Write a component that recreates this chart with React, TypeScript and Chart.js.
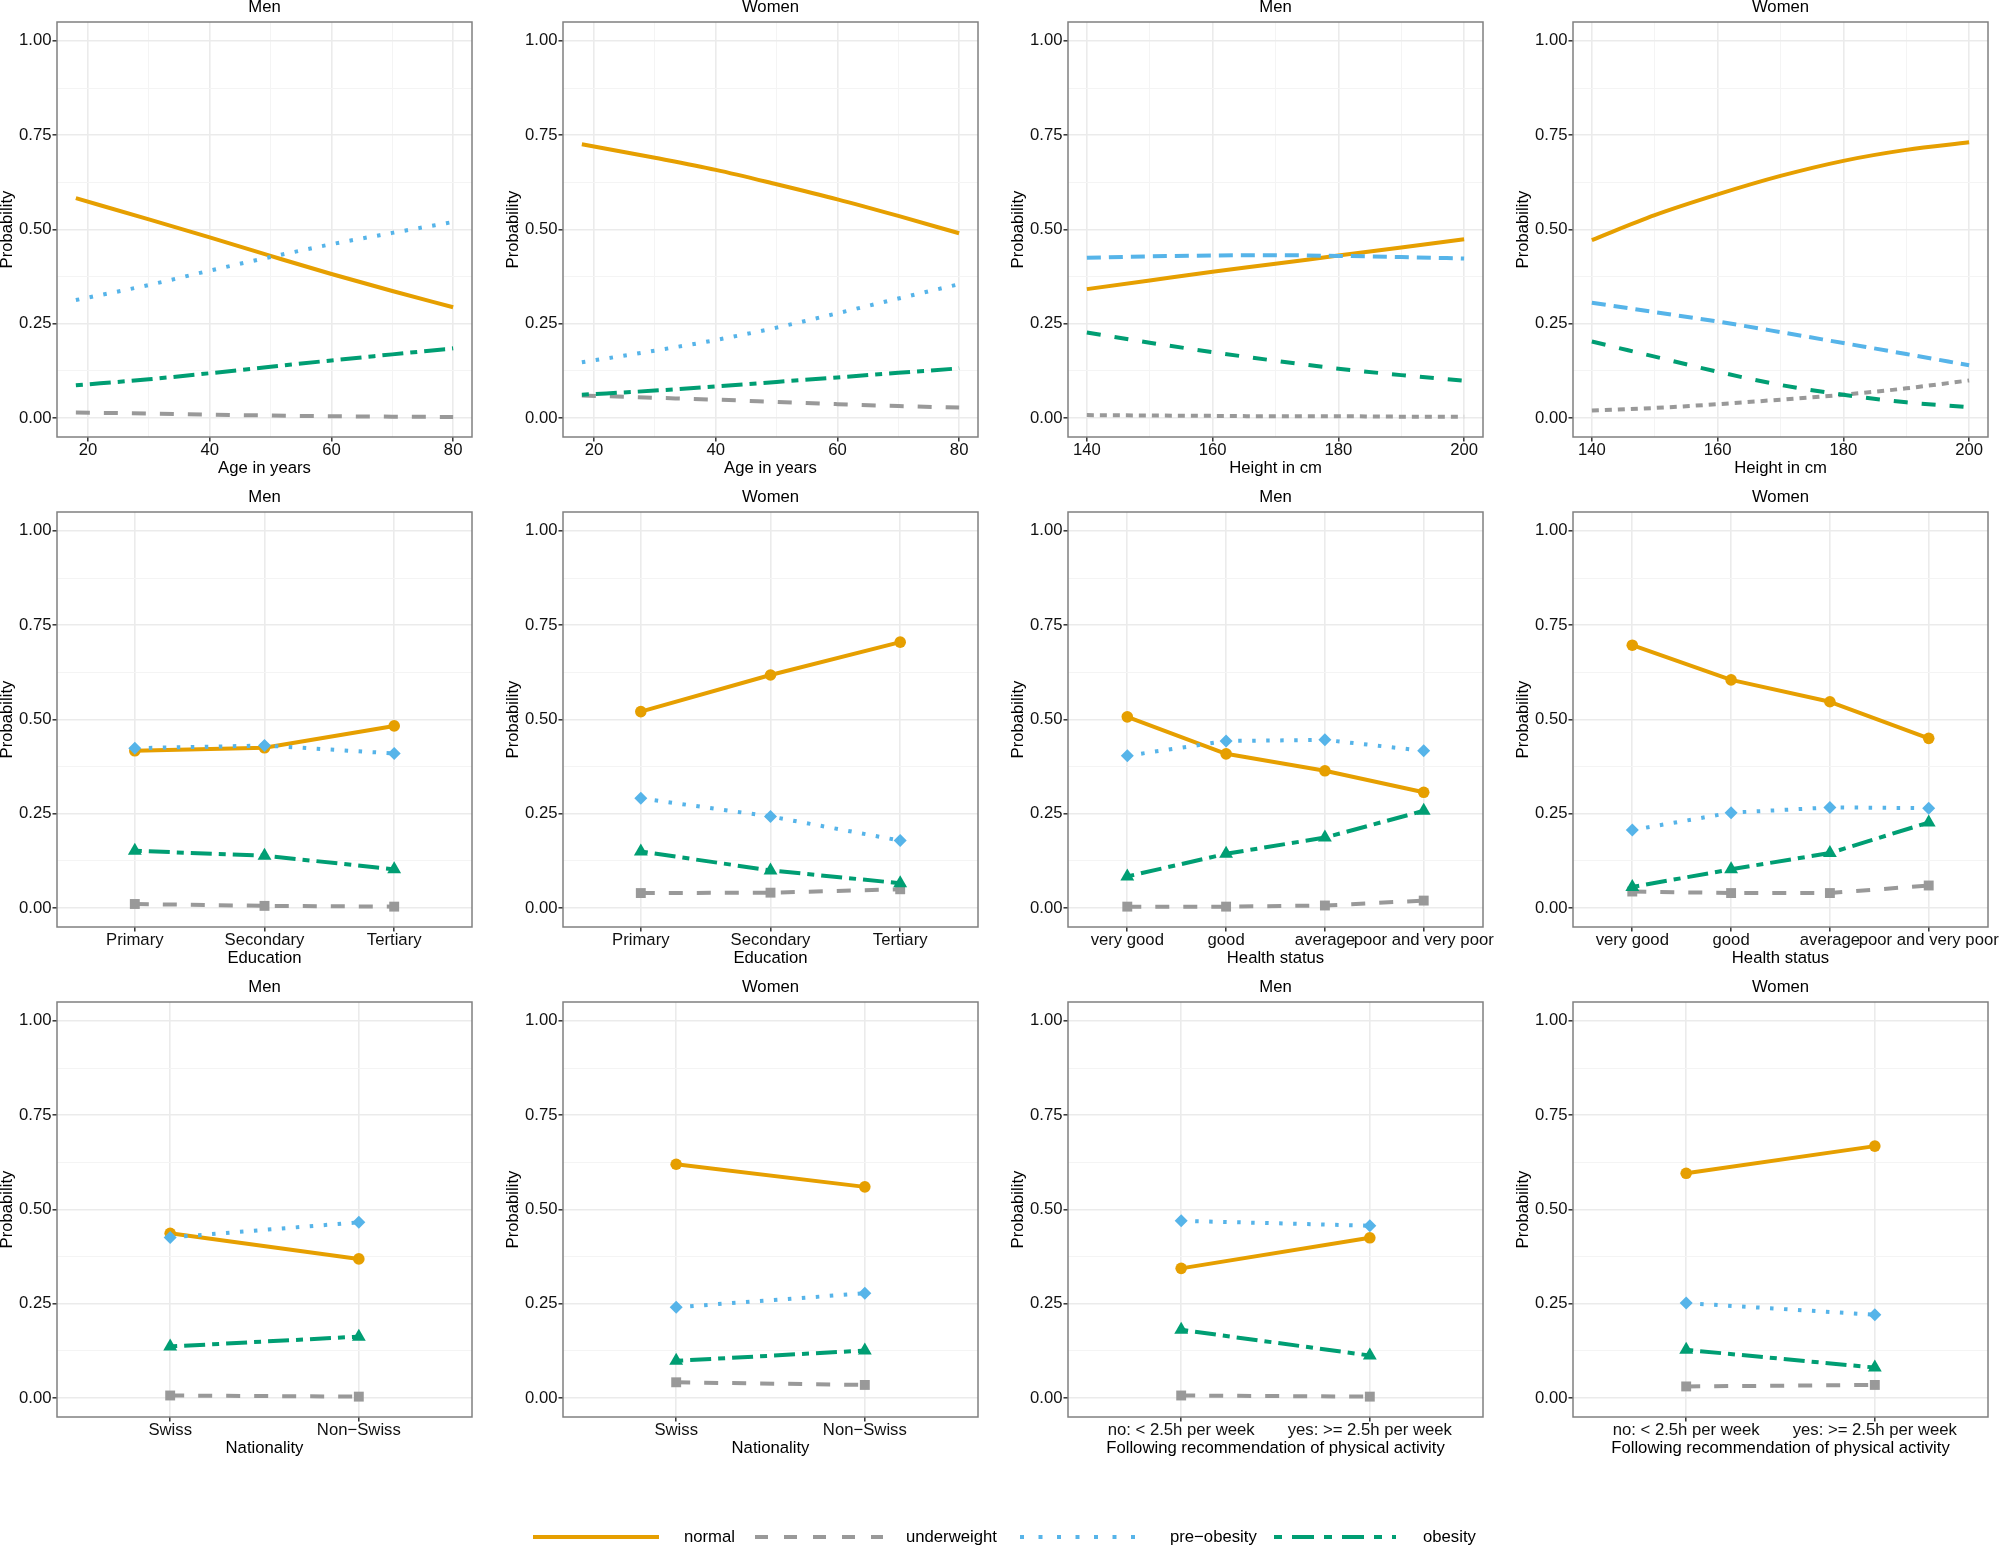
import React, { useEffect, useRef } from 'react';
import { Chart, registerables } from 'chart.js';

Chart.register(...registerables);

// ---------------- DATA ----------------
const SERIES = ['normal', 'underweight', 'pre\u2212obesity', 'obesity'];

const Y_TICKS = [0, 0.25, 0.5, 0.75, 1];
const Y_MINOR = [0.125, 0.375, 0.625, 0.875];

const AGE_YEARS = [18, 30, 40, 50, 60, 70, 80];
const AGE_TICKS = [20, 40, 60, 80];
const AGE_MINOR = [30, 50, 70];
const MEN_AGE_NORMAL = [0.583, 0.527, 0.479, 0.43, 0.382, 0.337, 0.294];
const MEN_AGE_UNDERWEIGHT = [0.015, 0.012, 0.009, 0.007, 0.005, 0.004, 0.003];
const MEN_AGE_PREOBESITY = [0.313, 0.353, 0.391, 0.427, 0.461, 0.491, 0.52];
const MEN_AGE_OBESITY = [0.087, 0.103, 0.119, 0.136, 0.153, 0.169, 0.185];
const WOMEN_AGE_NORMAL = [0.726, 0.69, 0.658, 0.62, 0.58, 0.536, 0.49];
const WOMEN_AGE_UNDERWEIGHT = [0.06, 0.054, 0.049, 0.043, 0.037, 0.032, 0.028];
const WOMEN_AGE_PREOBESITY = [0.148, 0.179, 0.207, 0.24, 0.278, 0.317, 0.355];
const WOMEN_AGE_OBESITY = [0.062, 0.073, 0.084, 0.096, 0.108, 0.12, 0.132];

const HEIGHT_CM = [140, 150, 160, 170, 180, 190, 200];
const HEIGHT_TICKS = [140, 160, 180, 200];
const HEIGHT_MINOR = [150, 170, 190];
const MEN_HEIGHT_NORMAL = [0.342, 0.365, 0.388, 0.409, 0.431, 0.452, 0.474];
const MEN_HEIGHT_UNDERWEIGHT = [0.008, 0.007, 0.006, 0.005, 0.005, 0.004, 0.004];
const MEN_HEIGHT_PREOBESITY = [0.425, 0.429, 0.431, 0.432, 0.43, 0.427, 0.423];
const MEN_HEIGHT_OBESITY = [0.227, 0.2, 0.175, 0.152, 0.131, 0.114, 0.099];
const WOMEN_HEIGHT_NORMAL = [0.472, 0.538, 0.593, 0.642, 0.682, 0.711, 0.731];
const WOMEN_HEIGHT_UNDERWEIGHT = [0.02, 0.027, 0.037, 0.049, 0.062, 0.079, 0.1];
const WOMEN_HEIGHT_PREOBESITY = [0.306, 0.281, 0.256, 0.228, 0.199, 0.17, 0.14];
const WOMEN_HEIGHT_OBESITY = [0.203, 0.163, 0.123, 0.088, 0.062, 0.042, 0.029];

const EDUCATION = ['Primary', 'Secondary', 'Tertiary'];
const MEN_EDU_NORMAL = [0.417, 0.425, 0.483];
const MEN_EDU_UNDERWEIGHT = [0.011, 0.006, 0.004];
const MEN_EDU_PREOBESITY = [0.424, 0.431, 0.41];
const MEN_EDU_OBESITY = [0.152, 0.139, 0.103];
const WOMEN_EDU_NORMAL = [0.521, 0.618, 0.705];
const WOMEN_EDU_UNDERWEIGHT = [0.04, 0.041, 0.05];
const WOMEN_EDU_PREOBESITY = [0.291, 0.243, 0.179];
const WOMEN_EDU_OBESITY = [0.15, 0.1, 0.066];

const HEALTH = ['very good', 'good', 'average', 'poor and very poor'];
const MEN_HEALTH_NORMAL = [0.507, 0.409, 0.364, 0.307];
const MEN_HEALTH_UNDERWEIGHT = [0.004, 0.004, 0.007, 0.02];
const MEN_HEALTH_PREOBESITY = [0.404, 0.443, 0.446, 0.417];
const MEN_HEALTH_OBESITY = [0.084, 0.144, 0.187, 0.258];
const WOMEN_HEALTH_NORMAL = [0.697, 0.605, 0.547, 0.45];
const WOMEN_HEALTH_UNDERWEIGHT = [0.044, 0.04, 0.04, 0.06];
const WOMEN_HEALTH_PREOBESITY = [0.207, 0.253, 0.267, 0.265];
const WOMEN_HEALTH_OBESITY = [0.056, 0.103, 0.146, 0.227];

const NATIONALITY = ['Swiss', 'Non\u2212Swiss'];
const MEN_NAT_NORMAL = [0.437, 0.369];
const MEN_NAT_UNDERWEIGHT = [0.007, 0.004];
const MEN_NAT_PREOBESITY = [0.426, 0.466];
const MEN_NAT_OBESITY = [0.137, 0.163];
const WOMEN_NAT_NORMAL = [0.62, 0.56];
const WOMEN_NAT_UNDERWEIGHT = [0.042, 0.035];
const WOMEN_NAT_PREOBESITY = [0.241, 0.278];
const WOMEN_NAT_OBESITY = [0.099, 0.126];

const ACTIVITY = ['no: < 2.5h per week', 'yes: >= 2.5h per week'];
const MEN_ACT_NORMAL = [0.344, 0.425];
const MEN_ACT_UNDERWEIGHT = [0.007, 0.004];
const MEN_ACT_PREOBESITY = [0.47, 0.457];
const MEN_ACT_OBESITY = [0.181, 0.113];
const WOMEN_ACT_NORMAL = [0.596, 0.668];
const WOMEN_ACT_UNDERWEIGHT = [0.031, 0.035];
const WOMEN_ACT_PREOBESITY = [0.252, 0.221];
const WOMEN_ACT_OBESITY = [0.128, 0.081];

// ---------------- STYLE ----------------
const FONT = '"Liberation Sans", Arial, Helvetica, sans-serif';
const FS = 16.7;
const COLORS = ['#E69F00', '#999999', '#56B4E9', '#009E73'];
const POINT_STYLES = ['circle', 'rect', 'rectRot', 'triangle'];
const POINT_RADII = [5.8, 7, 6.5, 8];
const DASH_STD = [[], [14, 14], [3.5, 10.5], [7, 7, 21, 7]];
const DASH_HEIGHT = [[], [7, 6], [14, 8], [14, 14]];
const DASH_LEGEND = [[], [13, 16], [4, 14.5], [8, 10, 22, 10]];

const CW = 505;
const CH = 490;
const COL_LEFT = [0, 506, 1011, 1516];
const ROW_TOP = [0, 490, 980];

const near = (v: number, arr: number[]) => arr.some((a) => Math.abs(a - v) < 1e-9);

const decorPlugin = {
  id: 'decor',
  afterDatasetsDraw(chart: any) {
    const { ctx, chartArea } = chart;
    ctx.save();
    ctx.strokeStyle = '#808080';
    ctx.lineWidth = 1.5;
    ctx.setLineDash([]);
    ctx.strokeRect(chartArea.left, chartArea.top, chartArea.right - chartArea.left, chartArea.bottom - chartArea.top);
    ctx.restore();
  },
  afterDraw(chart: any) {
    const { ctx, chartArea } = chart;
    const t = chart.options.plugins.decor?.title;
    if (!t) return;
    ctx.save();
    ctx.font = `${FS}px ${FONT}`;
    ctx.fillStyle = '#000';
    ctx.textAlign = 'center';
    ctx.textBaseline = 'middle';
    ctx.fillText(t, (chartArea.left + chartArea.right) / 2, chartArea.top - 15);
    ctx.restore();
  },
};

type PanelSpec = {
  col: number;
  row: number;
  title: string;
  xTitle: string;
  kind: 'age' | 'height' | 'cat';
  cats?: string[];
  values: number[][];
};

function buildConfig(p: PanelSpec) {
  const isCat = p.kind === 'cat';
  const xs = p.kind === 'age' ? AGE_YEARS : p.kind === 'height' ? HEIGHT_CM : (p.cats as string[]).map((_, i) => i + 1);
  const majorX = p.kind === 'age' ? AGE_TICKS : p.kind === 'height' ? HEIGHT_TICKS : xs;
  const minorX = p.kind === 'age' ? AGE_MINOR : p.kind === 'height' ? HEIGHT_MINOR : [];
  const xMin = p.kind === 'age' ? 14.9 : p.kind === 'height' ? 137 : 0.4;
  const xMax = p.kind === 'age' ? 83.1 : p.kind === 'height' ? 203 : xs.length + 0.6;
  const dashes = p.kind === 'height' ? DASH_HEIGHT : DASH_STD;

  const lineSets = SERIES.map((name, i) => ({
    label: name,
    data: xs.map((x, j) => ({ x, y: p.values[i][j] })),
    borderColor: COLORS[i],
    backgroundColor: COLORS[i],
    borderWidth: 4,
    borderDash: dashes[i],
    borderCapStyle: 'butt',
    borderJoinStyle: 'round',
    pointRadius: 0,
    pointHoverRadius: 0,
    cubicInterpolationMode: isCat ? 'default' : 'monotone',
    tension: 0,
    fill: false,
    order: 20 - i,
  }));
  const pointSets = isCat
    ? SERIES.map((name, i) => ({
        label: name + ' points',
        data: xs.map((x, j) => ({ x, y: p.values[i][j] })),
        showLine: false,
        borderColor: COLORS[i],
        backgroundColor: COLORS[i],
        pointStyle: POINT_STYLES[i],
        pointRadius: POINT_RADII[i],
        pointHoverRadius: POINT_RADII[i],
        pointBackgroundColor: COLORS[i],
        pointBorderColor: COLORS[i],
        pointBorderWidth: 0,
        order: 10 - i,
      }))
    : [];

  const tickFont = { family: FONT, size: FS };
  return {
    type: 'line',
    data: { datasets: [...lineSets, ...pointSets] },
    plugins: [decorPlugin],
    options: {
      animation: false,
      responsive: false,
      maintainAspectRatio: false,
      devicePixelRatio: 1,
      events: [],
      layout: { padding: { left: 0, top: 22, right: 33, bottom: 0 } },
      plugins: {
        legend: { display: false },
        tooltip: { enabled: false },
        decor: { title: p.title },
      },
      scales: {
        x: {
          type: 'linear',
          position: 'bottom',
          min: xMin,
          max: xMax,
          bounds: 'data',
          afterBuildTicks: (axis: any) => {
            axis.ticks = [...majorX, ...minorX].sort((a, b) => a - b).map((v) => ({ value: v }));
          },
          afterFit: (axis: any) => {
            axis.height = 53;
            axis.paddingLeft = 0;
            axis.paddingRight = 0;
          },
          ticks: {
            autoSkip: false,
            maxRotation: 0,
            minRotation: 0,
            padding: 0.5,
            color: '#111',
            font: { ...tickFont, lineHeight: 1 },
            callback: (v: number) => {
              if (!near(v, majorX)) return '';
              return isCat ? (p.cats as string[])[Math.round(v) - 1] : String(v);
            },
          },
          grid: {
            color: (c: any) => (c.tick && near(c.tick.value, majorX) ? '#EBEBEB' : '#F4F4F4'),
            lineWidth: (c: any) => (c.tick && near(c.tick.value, majorX) ? 1.6 : 1),
            tickColor: (c: any) => (c.tick && near(c.tick.value, majorX) ? '#333333' : 'rgba(0,0,0,0)'),
            tickLength: 4.5,
            tickWidth: 1.5,
          },
          border: { display: false },
          title: {
            display: true,
            text: p.xTitle,
            color: '#000',
            font: { family: FONT, size: FS, lineHeight: 1.2 },
            padding: { top: 0, bottom: 12 },
          },
        },
        y: {
          type: 'linear',
          position: 'left',
          min: -0.05,
          max: 1.05,
          bounds: 'data',
          afterBuildTicks: (axis: any) => {
            axis.ticks = [...Y_TICKS, ...Y_MINOR].sort((a, b) => a - b).map((v) => ({ value: v }));
          },
          afterFit: (axis: any) => {
            axis.width = 57;
            axis.paddingTop = 0;
            axis.paddingBottom = 0;
          },
          ticks: {
            autoSkip: false,
            padding: 1,
            color: '#111',
            font: tickFont,
            callback: (v: number) => (near(v, Y_TICKS) ? v.toFixed(2) : ''),
          },
          grid: {
            color: (c: any) => (c.tick && near(c.tick.value, Y_TICKS) ? '#EBEBEB' : '#F4F4F4'),
            lineWidth: (c: any) => (c.tick && near(c.tick.value, Y_TICKS) ? 1.6 : 1),
            tickColor: (c: any) => (c.tick && near(c.tick.value, Y_TICKS) ? '#333333' : 'rgba(0,0,0,0)'),
            tickLength: 4.5,
            tickWidth: 1.5,
          },
          border: { display: false },
          title: {
            display: true,
            text: 'Probability',
            color: '#000',
            font: { family: FONT, size: FS, lineHeight: 1.2 },
            padding: { top: -2.5, bottom: 0 },
          },
        },
      },
    },
  };
}

const PANELS: PanelSpec[] = [
  { col: 0, row: 0, title: 'Men', xTitle: 'Age in years', kind: 'age', values: [MEN_AGE_NORMAL, MEN_AGE_UNDERWEIGHT, MEN_AGE_PREOBESITY, MEN_AGE_OBESITY] },
  { col: 1, row: 0, title: 'Women', xTitle: 'Age in years', kind: 'age', values: [WOMEN_AGE_NORMAL, WOMEN_AGE_UNDERWEIGHT, WOMEN_AGE_PREOBESITY, WOMEN_AGE_OBESITY] },
  { col: 2, row: 0, title: 'Men', xTitle: 'Height in cm', kind: 'height', values: [MEN_HEIGHT_NORMAL, MEN_HEIGHT_UNDERWEIGHT, MEN_HEIGHT_PREOBESITY, MEN_HEIGHT_OBESITY] },
  { col: 3, row: 0, title: 'Women', xTitle: 'Height in cm', kind: 'height', values: [WOMEN_HEIGHT_NORMAL, WOMEN_HEIGHT_UNDERWEIGHT, WOMEN_HEIGHT_PREOBESITY, WOMEN_HEIGHT_OBESITY] },
  { col: 0, row: 1, title: 'Men', xTitle: 'Education', kind: 'cat', cats: EDUCATION, values: [MEN_EDU_NORMAL, MEN_EDU_UNDERWEIGHT, MEN_EDU_PREOBESITY, MEN_EDU_OBESITY] },
  { col: 1, row: 1, title: 'Women', xTitle: 'Education', kind: 'cat', cats: EDUCATION, values: [WOMEN_EDU_NORMAL, WOMEN_EDU_UNDERWEIGHT, WOMEN_EDU_PREOBESITY, WOMEN_EDU_OBESITY] },
  { col: 2, row: 1, title: 'Men', xTitle: 'Health status', kind: 'cat', cats: HEALTH, values: [MEN_HEALTH_NORMAL, MEN_HEALTH_UNDERWEIGHT, MEN_HEALTH_PREOBESITY, MEN_HEALTH_OBESITY] },
  { col: 3, row: 1, title: 'Women', xTitle: 'Health status', kind: 'cat', cats: HEALTH, values: [WOMEN_HEALTH_NORMAL, WOMEN_HEALTH_UNDERWEIGHT, WOMEN_HEALTH_PREOBESITY, WOMEN_HEALTH_OBESITY] },
  { col: 0, row: 2, title: 'Men', xTitle: 'Nationality', kind: 'cat', cats: NATIONALITY, values: [MEN_NAT_NORMAL, MEN_NAT_UNDERWEIGHT, MEN_NAT_PREOBESITY, MEN_NAT_OBESITY] },
  { col: 1, row: 2, title: 'Women', xTitle: 'Nationality', kind: 'cat', cats: NATIONALITY, values: [WOMEN_NAT_NORMAL, WOMEN_NAT_UNDERWEIGHT, WOMEN_NAT_PREOBESITY, WOMEN_NAT_OBESITY] },
  { col: 2, row: 2, title: 'Men', xTitle: 'Following recommendation of physical activity', kind: 'cat', cats: ACTIVITY, values: [MEN_ACT_NORMAL, MEN_ACT_UNDERWEIGHT, MEN_ACT_PREOBESITY, MEN_ACT_OBESITY] },
  { col: 3, row: 2, title: 'Women', xTitle: 'Following recommendation of physical activity', kind: 'cat', cats: ACTIVITY, values: [WOMEN_ACT_NORMAL, WOMEN_ACT_UNDERWEIGHT, WOMEN_ACT_PREOBESITY, WOMEN_ACT_OBESITY] },
];

function Panel({ spec }: { spec: PanelSpec }) {
  const ref = useRef<HTMLCanvasElement>(null);
  useEffect(() => {
    const chart = new Chart(ref.current as HTMLCanvasElement, buildConfig(spec) as any);
    return () => chart.destroy();
  }, [spec]);
  return (
    <canvas
      ref={ref}
      width={CW}
      height={CH}
      style={{ position: 'absolute', left: COL_LEFT[spec.col], top: ROW_TOP[spec.row], width: CW, height: CH }}
    />
  );
}

// legend layout (pixel positions of keys)
const LEG_LINE = [
  [533, 659],
  [755, 883],
  [1020, 1138],
  [1274, 1396],
];
const LEG_TEXT_X = [684, 906, 1170, 1423];

const legendPlugin = {
  id: 'bottomLegend',
  afterDraw(chart: any) {
    const { ctx } = chart;
    const y = 30;
    chart.data.datasets.forEach((ds: any, i: number) => {
      ctx.save();
      ctx.strokeStyle = ds.borderColor;
      ctx.lineWidth = 4;
      ctx.lineCap = 'butt';
      ctx.setLineDash(DASH_LEGEND[i]);
      ctx.beginPath();
      ctx.moveTo(LEG_LINE[i][0], y);
      ctx.lineTo(LEG_LINE[i][1], y);
      ctx.stroke();
      ctx.setLineDash([]);
      ctx.font = `${FS}px ${FONT}`;
      ctx.fillStyle = '#000';
      ctx.textAlign = 'left';
      ctx.textBaseline = 'middle';
      ctx.fillText(ds.label, LEG_TEXT_X[i], y);
      ctx.restore();
    });
  },
};

function Legend() {
  const ref = useRef<HTMLCanvasElement>(null);
  useEffect(() => {
    const chart = new Chart(ref.current as HTMLCanvasElement, {
      type: 'line',
      data: {
        datasets: SERIES.map((name, i) => ({ label: name, data: [], borderColor: COLORS[i], borderDash: DASH_LEGEND[i] })),
      },
      plugins: [legendPlugin],
      options: {
        animation: false,
        responsive: false,
        devicePixelRatio: 1,
        events: [],
        plugins: { legend: { display: false }, tooltip: { enabled: false } },
        scales: { x: { display: false }, y: { display: false } },
      },
    } as any);
    return () => chart.destroy();
  }, []);
  return <canvas ref={ref} width={2000} height={60} style={{ position: 'absolute', left: 0, top: 1507, width: 2000, height: 60 }} />;
}

export default function App() {
  return (
    <div
      style={{
        position: 'absolute',
        left: 0,
        top: 0,
        width: 2000,
        height: 1547,
        overflow: 'hidden',
        background: '#ffffff',
      }}
    >
      {PANELS.map((p, i) => (
        <Panel key={i} spec={p} />
      ))}
      <Legend />
    </div>
  );
}
